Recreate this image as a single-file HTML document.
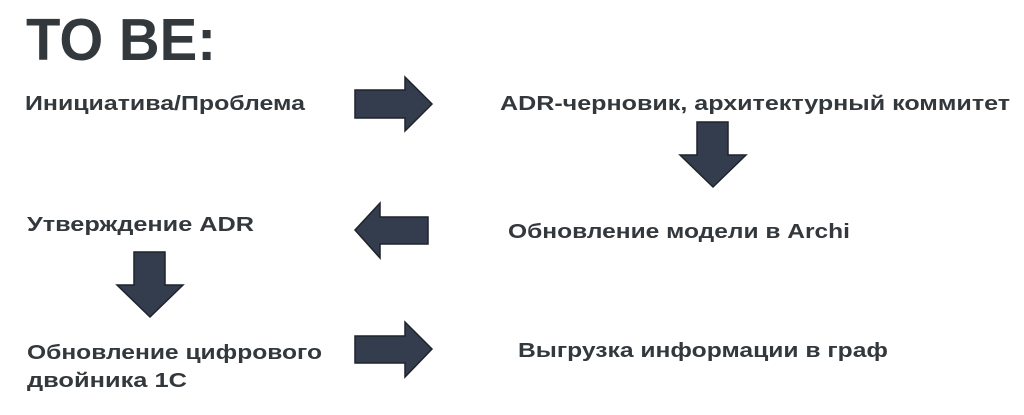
<!DOCTYPE html>
<html><head><meta charset="utf-8"><style>
html,body{margin:0;padding:0;background:#fff;}
svg{display:block}
text{font-family:"Liberation Sans",sans-serif;font-weight:bold;fill:#33383d}
</style></head><body>
<svg width="1024" height="415" viewBox="0 0 1024 415" xmlns="http://www.w3.org/2000/svg">
<text x="26" y="60" font-size="59" textLength="190" lengthAdjust="spacingAndGlyphs">TO BE:</text>
<g font-size="20">
<text x="25" y="110" textLength="280" lengthAdjust="spacingAndGlyphs">Инициатива/Проблема</text>
<text x="500" y="110" textLength="510" lengthAdjust="spacingAndGlyphs">ADR-черновик, архитектурный коммитет</text>
<text x="27" y="231" textLength="227" lengthAdjust="spacingAndGlyphs">Утверждение ADR</text>
<text x="508" y="238" textLength="342" lengthAdjust="spacingAndGlyphs">Обновление модели в Archi</text>
<text x="27" y="359" textLength="295" lengthAdjust="spacingAndGlyphs">Обновление цифрового</text>
<text x="27" y="387" textLength="160" lengthAdjust="spacingAndGlyphs">двойника 1С</text>
<text x="518" y="357" textLength="370" lengthAdjust="spacingAndGlyphs">Выгрузка информации в граф</text>
</g>
<g fill="#333d4d" stroke="#1f242b" stroke-width="1.5">
<polygon points="355,90 405,90 405,77 432,104 405,131 405,118 355,118"/>
<polygon points="697,122 728,122 728,155 746,155 713,187 680,155 697,155"/>
<polygon points="428,217 380,217 380,203 355,230 380,258 380,244 428,244"/>
<polygon points="134,252 165,252 165,285 183,285 150,317 117,285 134,285"/>
<polygon points="355,336 405,336 405,322 432,349 405,377 405,363 355,363"/>
</g>
</svg>
</body></html>
